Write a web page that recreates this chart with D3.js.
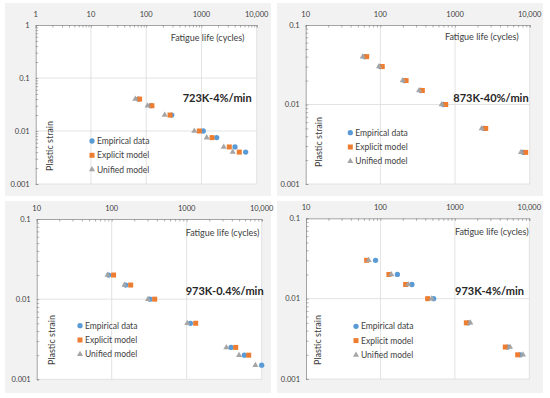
<!DOCTYPE html>
<html>
<head>
<meta charset="utf-8">
<script src="https://cdn.jsdelivr.net/npm/d3@7"></script>
<style>
  body { margin: 0; background: #fff; }
  text { font-family: Lato, "Open Sans", sans-serif; }
</style>
</head>
<body>
<div id="chart"></div>
<script>
// legend / series names
var seriesNames = ["Empirical data", "Explicit model", "Unified model"];
var seriesColors = ["#5B9BD5", "#ED7D31", "#A5A5A5"];

// 723K-4%/min
var strain1 = [0.04, 0.03, 0.02, 0.01, 0.0075, 0.005, 0.004];
var empirical1 = [72, 122, 290, 1080, 1890, 4050, 6310];
var explicit1 = [76, 127, 270, 915, 1553, 3190, 4840];
var unified1 = [63.5, 106, 216, 743, 1245, 2530, 3680];

// 873K-40%/min
var strain2 = [0.04, 0.03, 0.02, 0.015, 0.01, 0.005, 0.0025];
var empirical2 = [62, 100, 210, 350, 700, 2450, 8200];
var explicit2 = [65.6, 106, 221, 365, 750, 2575, 8840];
var unified2 = [58, 96, 199, 330, 662, 2275, 7650];

// 973K-0.4%/min
var strain3 = [0.02, 0.015, 0.01, 0.005, 0.0025, 0.002, 0.0015];
var empirical3 = [91, 154, 324, 1120, 3900, 5870, 10000];
var explicit3 = [106, 179, 374, 1318, 4500, 6710, null];
var unified3 = [88, 148, 305, 1020, 3380, 4990, 8240];

// 973K-4%/min
var strain4 = [0.03, 0.02, 0.015, 0.01, 0.005, 0.0025, 0.002];
var empirical4 = [86, 169, 265, 519, 1520, 5130, 7600];
var explicit4 = [65.3, 130, 218, 431, 1426, 4760, 6980];
var unified4 = [69.5, 140, 237, 488, 1614, 5500, 8230];

var xTickLabels = {1: "1", 10: "10", 100: "100", 1000: "1000", 10000: "10,000"};
var yTickLabels = {1: "1", 0.1: "0.1", 0.01: "0.01", 0.001: "0.001"};

var svg = d3.select("#chart").append("svg")
    .attr("width", 550)
    .attr("height", 398);

function drawPanel(p) {
    var g = svg.append("g");

    g.append("rect")
        .attr("x", p.box[0]).attr("y", p.box[1])
        .attr("width", p.box[2]).attr("height", p.box[3])
        .attr("fill", "#f2f2f2");

    var x = d3.scaleLog().domain(p.xdom).range([p.left, p.right]);
    var y = d3.scaleLog().domain(p.ydom).range([p.bottom, p.top]);

    g.append("rect")
        .attr("x", p.left).attr("y", p.top)
        .attr("width", p.right - p.left).attr("height", p.bottom - p.top)
        .attr("fill", "#fff");

    var xMajor = d3.range(Math.log10(p.xdom[0]), Math.log10(p.xdom[1]) + 1).map(function(e) { return Math.pow(10, e); });
    var yMajor = d3.range(Math.log10(p.ydom[0]), Math.log10(p.ydom[1]) + 1).map(function(e) { return Math.pow(10, e); });

    // gridlines
    g.selectAll(null).data(xMajor.slice(1)).enter().append("line")
        .attr("x1", function(d) { return x(d); }).attr("x2", function(d) { return x(d); })
        .attr("y1", p.top).attr("y2", p.bottom)
        .attr("stroke", "#d9d9d9").attr("stroke-width", 0.75);
    g.selectAll(null).data(yMajor.slice(0, -1)).enter().append("line")
        .attr("y1", function(d) { return y(d); }).attr("y2", function(d) { return y(d); })
        .attr("x1", p.left).attr("x2", p.right)
        .attr("stroke", "#d9d9d9").attr("stroke-width", 0.75);

    // axes with inside ticks
    var xAxis = d3.axisTop(x).tickValues(x.ticks()).tickSize(-2.5).tickFormat("");
    var ax = g.append("g").attr("transform", "translate(0," + p.top + ")").call(xAxis);
    var yAxis = d3.axisLeft(y).tickValues(y.ticks()).tickSize(-2.5).tickFormat("");
    var ay = g.append("g").attr("transform", "translate(" + p.left + ",0)").call(yAxis);
    [ax, ay].forEach(function(a) {
        a.select(".domain").attr("stroke", "#8c8c8c").attr("stroke-width", 0.8);
        a.selectAll(".tick line").attr("stroke", "#8c8c8c").attr("stroke-width", 0.7);
    });

    g.selectAll(null).data(xMajor).enter().append("text")
        .attr("x", function(d) { return x(d); })
        .attr("y", p.top - 8)
        .attr("text-anchor", "middle")
        .attr("font-size", 7.5).attr("fill", "#404040")
        .text(function(d) { return xTickLabels[d]; });
    g.selectAll(null).data(yMajor).enter().append("text")
        .attr("x", p.left - 6)
        .attr("y", function(d) { return y(d) + 2.5; })
        .attr("text-anchor", "end")
        .attr("font-size", 7.5).attr("fill", "#404040")
        .text(function(d) { return yTickLabels[d]; });

    // titles
    g.append("text").attr("x", p.fat[0]).attr("y", p.fat[1])
        .attr("font-size", 9).attr("fill", "#404040")
        .text("Fatigue life (cycles)");
    g.append("text")
        .attr("transform", "translate(" + p.ps[0] + "," + p.ps[1] + ") rotate(-90)")
        .attr("text-anchor", "middle")
        .attr("font-size", 9).attr("fill", "#404040")
        .text("Plastic strain");
    g.append("text").attr("x", p.lab[0]).attr("y", p.lab[1])
        .attr("font-size", 11).attr("font-weight", "bold").attr("fill", "#262626")
        .text(p.label);

    // series
    var series = [p.emp, p.exp, p.uni];
    series.forEach(function(vals, si) {
        var pts = vals.map(function(v, i) { return {n: v, s: p.strain[i]}; })
            .filter(function(d) { return d.n != null; });
        var sym = si === 0 ? d3.symbolCircle : si === 1 ? d3.symbolSquare : d3.symbolTriangle;
        var size = si === 0 ? 22 : si === 1 ? 25 : 16;
        g.selectAll(null).data(pts).enter().append("path")
            .attr("d", d3.symbol().type(sym).size(size))
            .attr("transform", function(d) { return "translate(" + x(d.n) + "," + y(d.s) + ")"; })
            .attr("fill", seriesColors[si]);
    });

    // legend
    seriesNames.forEach(function(name, si) {
        var ly = p.leg[1] + si * 14.3;
        var sym = si === 0 ? d3.symbolCircle : si === 1 ? d3.symbolSquare : d3.symbolTriangle;
        var size = si === 0 ? 22 : si === 1 ? 25 : 16;
        g.append("path")
            .attr("d", d3.symbol().type(sym).size(size))
            .attr("transform", "translate(" + p.leg[0] + "," + ly + ")")
            .attr("fill", seriesColors[si]);
        g.append("text").attr("x", p.leg[0] + 5).attr("y", ly + 3)
            .attr("font-size", 8.5).attr("fill", "#404040")
            .text(name);
    });
}

drawPanel({
    box: [5, 3, 266, 193], left: 35.7, right: 256.7, top: 25, bottom: 184,
    xdom: [1, 10000], ydom: [0.001, 1],
    strain: strain1, emp: empirical1, exp: explicit1, uni: unified1,
    label: "723K-4%/min", lab: [182.7, 101.5], fat: [170.7, 40.5], ps: [53, 146], leg: [92, 141]
});
drawPanel({
    box: [277, 3, 266, 193], left: 305.7, right: 529.7, top: 25, bottom: 184,
    xdom: [10, 10000], ydom: [0.001, 0.1],
    strain: strain2, emp: empirical2, exp: explicit2, uni: unified2,
    label: "873K-40%/min", lab: [453.3, 101.5], fat: [445, 40], ps: [322, 142], leg: [350.3, 132.7]
});
drawPanel({
    box: [5, 201, 266, 192], left: 36.7, right: 261.7, top: 219, bottom: 379.3,
    xdom: [10, 10000], ydom: [0.001, 0.1],
    strain: strain3, emp: empirical3, exp: explicit3, uni: unified3,
    label: "973K-0.4%/min", lab: [185.7, 295], fat: [185.7, 236], ps: [54.5, 340], leg: [80, 325.7]
});
drawPanel({
    box: [277, 201, 266, 192], left: 306, right: 529.3, top: 218.3, bottom: 379,
    xdom: [10, 10000], ydom: [0.001, 0.1],
    strain: strain4, emp: empirical4, exp: explicit4, uni: unified4,
    label: "973K-4%/min", lab: [455, 294.5], fat: [455, 235], ps: [320.5, 340], leg: [356, 326.3]
});
</script>
</body>
</html>
